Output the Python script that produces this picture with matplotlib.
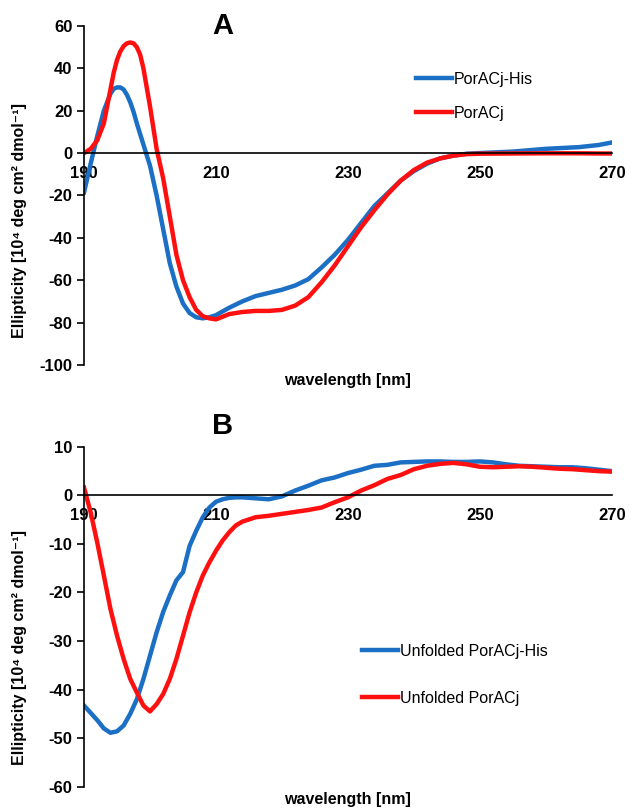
import numpy as np
import matplotlib
matplotlib.use("Agg")
import matplotlib.pyplot as plt

plt.rcParams['font.family'] = ['Liberation Sans', 'DejaVu Sans']
plt.rcParams['axes.unicode_minus'] = False

# panel A - native proteins
wl_a = [190, 191, 192, 193, 194, 194.5, 195, 195.5, 196, 196.5, 197, 197.5, 198, 198.5, 199,
        200, 201, 202, 203, 204, 205, 206, 207, 208, 209, 210, 212, 214, 216, 218,
        220, 222, 224, 226, 228, 230, 232, 234, 236, 238, 240, 242, 244, 246, 248,
        250, 255, 260, 265, 268, 270]
his_a = [-18.5, -5, 8, 20, 28, 30.3, 31, 31, 30, 27.5, 24, 19.5, 14, 9, 4,
         -6, -20, -36, -52, -63, -71, -75.5, -77.5, -78, -77.5, -76.5, -73, -70, -67.5, -66,
         -64.5, -62.5, -59.5, -54, -48, -41, -33, -25, -19, -13, -8.5, -5, -2.5, -1.2, -0.3,
         0, 0.7, 2, 2.8, 3.8, 5]
wt_a = [0, 2, 6, 14, 30, 38, 44, 48, 50.5, 51.8, 52.2, 51.8, 50, 46.5, 40,
        22, 2, -12, -30, -48, -60, -68, -74, -77, -78, -78.5, -76, -75, -74.5, -74.5,
        -74, -72, -68, -61, -53, -44, -35, -27, -19.5, -13, -8, -4.5, -2.5, -1.2, -0.5,
        -0.3, -0.2, -0.1, -0.1, -0.2, -0.2]

# panel B - unfolded proteins
wl_b = [190, 191, 192, 193, 194, 195, 196, 197, 198, 199, 200, 201, 202, 203, 204,
        205, 206, 207, 208, 209, 210, 211, 212, 213, 214, 216, 218, 220, 222, 224,
        226, 228, 230, 232, 234, 236, 238, 240, 242, 244, 246, 248, 250, 252, 254,
        256, 258, 260, 262, 264, 266, 268, 270]
his_b = [-43.3, -44.8, -46.3, -48, -48.9, -48.6, -47.4, -45, -42, -37.8, -33, -28.2, -24, -20.6, -17.5,
         -15.8, -10.4, -7.3, -4.5, -2.5, -1.3, -0.8, -0.5, -0.4, -0.4, -0.6, -0.8, -0.2, 1, 2,
         3.1, 3.7, 4.6, 5.3, 6.1, 6.3, 6.8, 6.9, 7.0, 7.0, 6.9, 6.9, 7.0, 6.8, 6.4,
         6.1, 6.0, 5.9, 5.8, 5.8, 5.6, 5.3, 5.0]
wt_b = [1.6, -3.5, -9.7, -16.5, -23.4, -28.9, -33.7, -37.8, -40.6, -43.3, -44.5, -43, -40.9, -37.8, -33.7,
        -28.9, -24.1, -20, -16.5, -13.8, -11.4, -9.3, -7.6, -6.2, -5.4, -4.5, -4.2, -3.8, -3.4, -3.0,
        -2.5, -1.4, -0.4, 1.0, 2.1, 3.4, 4.2, 5.4, 6.1, 6.5, 6.7, 6.4, 5.9, 5.8, 5.9,
        6.0, 5.9, 5.7, 5.5, 5.4, 5.2, 5.0, 4.9]

x_ticks = [190, 210, 230, 250, 270]
blue = '#1b6fc4'
red = '#ff1010'
ylab = 'Ellipticity [10\u2074 deg cm\u00b2 dmol\u207b\u00b9]'

fig = plt.figure(figsize=(6.32, 8.11), dpi=100)
ax_a = fig.add_axes([0.133, 0.55, 0.835, 0.418])
ax_b = fig.add_axes([0.133, 0.03, 0.835, 0.419])


def style_axes(ax, ylim, yticks, xlab_y, ylab_y):
    ax.set_xlim(190, 270)
    ax.set_ylim(*ylim)
    ax.set_yticks(yticks)
    ax.set_xticks(x_ticks)
    ax.spines['top'].set_visible(False)
    ax.spines['right'].set_visible(False)
    ax.spines['bottom'].set_position(('data', 0))
    ax.spines['bottom'].set_linewidth(1.2)
    ax.spines['left'].set_linewidth(1.2)
    ax.tick_params(axis='x', length=0, pad=9, labelsize=12)
    ax.tick_params(axis='y', direction='out', length=5, width=1.2, labelsize=12)
    for t in ax.get_xticklabels() + ax.get_yticklabels():
        t.set_fontweight('bold')
    ax.set_ylabel(ylab, fontsize=11.5, fontweight='bold')
    ax.yaxis.set_label_coords(-0.108, ylab_y)
    ax.text(0.5, xlab_y, 'wavelength [nm]', transform=ax.transAxes,
            ha='center', va='center', fontsize=11.5, fontweight='bold')


ax_a.plot(wl_a, his_a, color=blue, lw=3.2, label='PorACj-His')
ax_a.plot(wl_a, wt_a, color=red, lw=3.2, label='PorACj')
style_axes(ax_a, (-100, 60), np.arange(-100, 61, 20), -0.045, 0.425)
ax_a.legend(loc='upper left', bbox_to_anchor=(0.601, 0.908), frameon=False,
            fontsize=11.5, handlelength=2.3, handletextpad=0.1, labelspacing=1.2)
ax_a.text(0.262, 1.0, 'A', transform=ax_a.transAxes, ha='center', va='center',
          fontsize=21, fontweight='bold')

ax_b.plot(wl_b, his_b, color=blue, lw=3.2, label='Unfolded PorACj-His')
ax_b.plot(wl_b, wt_b, color=red, lw=3.2, label='Unfolded PorACj')
style_axes(ax_b, (-60, 10), np.arange(-60, 11, 10), -0.038, 0.41)
ax_b.legend(loc='upper left', bbox_to_anchor=(0.499, 0.463), frameon=False,
            fontsize=11.5, handlelength=2.3, handletextpad=0.1, labelspacing=2.0)
ax_b.text(0.262, 1.06, 'B', transform=ax_b.transAxes, ha='center', va='center',
          fontsize=21, fontweight='bold')

fig.savefig('out.png', dpi=100)
